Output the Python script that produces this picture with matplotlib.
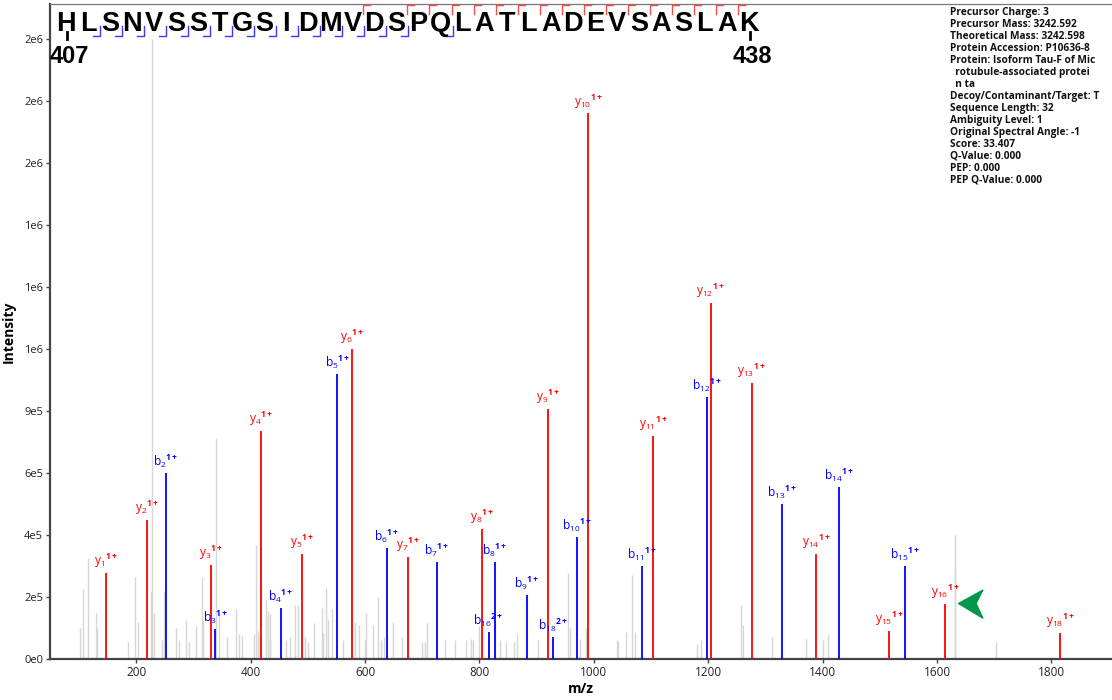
import matplotlib
matplotlib.use('Agg')
import matplotlib.pyplot as plt
from matplotlib.path import Path

W, H = 1112, 700
plt.rcParams['font.family'] = ['Open Sans', 'DejaVu Sans']
plt.rcParams['mathtext.fontset'] = 'custom'
plt.rcParams['mathtext.rm'] = 'Open Sans'
plt.rcParams['mathtext.bf'] = 'Open Sans:bold'

peptide = 'HLSNVSSTGSIDMVDSPQLATLADEVSASLAK'
start_res, end_res = 407, 438

# matched b ions
b_num = [2, 3, 4, 5, 6, 7, 8, 9, 10, 11, 12, 13, 14, 15, 16, 18]
b_charge = [1, 1, 1, 1, 1, 1, 1, 1, 1, 1, 1, 1, 1, 1, 2, 2]
b_mz = [251.15, 338.18, 452.23, 551.29, 638.33, 725.36, 826.41, 883.43, 970.46,
        1083.54, 1198.57, 1329.61, 1428.68, 1543.71, 815.87, 928.43]
b_int = [6.0e5, 0.97e5, 1.65e5, 9.19e5, 3.58e5, 3.13e5, 3.13e5, 2.06e5, 3.94e5,
         3.0e5, 8.45e5, 5.0e5, 5.55e5, 3.0e5, 0.87e5, 0.72e5]

# matched y ions
y_num = [1, 2, 3, 4, 5, 6, 7, 8, 9, 10, 11, 12, 13, 14, 15, 16, 18]
y_charge = [1] * 17
y_mz = [147.11, 218.15, 331.23, 418.27, 489.30, 576.34, 675.40, 804.45, 919.47,
        990.51, 1103.59, 1204.64, 1275.68, 1388.76, 1516.82, 1613.87, 1815.93]
y_int = [2.77e5, 4.5e5, 3.03e5, 7.36e5, 3.4e5, 1.0e6, 3.3e5, 4.2e5, 8.07e5,
         1.76e6, 7.2e5, 1.15e6, 8.9e5, 3.4e5, 0.9e5, 1.77e5, 0.84e5]

# unmatched peaks
grey_mz = [102, 106, 116, 130, 131, 186, 198, 203, 225, 227, 230, 245, 249, 270, 274,
           287, 292, 304, 314, 317, 340, 345, 358, 374, 380, 384, 406, 410, 412, 417,
           427, 430, 433, 434, 461, 469, 477, 483, 495, 500, 511, 524, 527, 531, 535,
           542, 561, 583, 589, 599, 602, 614, 622, 627, 633, 649, 664, 699, 705, 708,
           739, 758, 777, 786, 789, 799, 827, 836, 846, 861, 866, 902, 954, 958, 976,
           987, 1040, 1043, 1056, 1067, 1072, 1181, 1188, 1258, 1261, 1311, 1371,
           1400, 1410, 1630.7, 1631.7, 1703]
grey_int = [1.0e5, 2.26e5, 3.26e5, 1.5e5, 1.0e5, 0.55e5, 2.65e5, 1.2e5, 2.2e5, 2.0e6,
            1.5e5, 0.6e5, 2.2e5, 1.0e5, 0.6e5, 1.25e5, 0.55e5, 1.05e5, 2.65e5, 1.25e5,
            7.13e5, 1.5e5, 0.7e5, 1.6e5, 0.8e5, 0.75e5, 0.8e5, 3.68e5, 0.9e5, 0.8e5,
            1.9e5, 1.55e5, 1.45e5, 0.6e5, 0.6e5, 0.7e5, 1.75e5, 1.75e5, 0.7e5, 0.55e5,
            1.15e5, 1.65e5, 0.85e5, 2.3e5, 1.25e5, 1.6e5, 0.6e5, 1.2e5, 1.1e5, 0.6e5,
            1.5e5, 1.1e5, 2.0e5, 0.6e5, 0.7e5, 1.2e5, 0.7e5, 0.55e5, 0.55e5, 1.15e5,
            0.6e5, 0.6e5, 0.6e5, 0.65e5, 0.6e5, 1.05e5, 1.2e5, 0.6e5, 0.55e5, 0.55e5,
            0.8e5, 0.6e5, 2.77e5, 1.0e5, 0.65e5, 1.0e5, 0.6e5, 0.55e5, 0.87e5, 2.7e5,
            0.87e5, 0.5e5, 0.6e5, 1.75e5, 1.1e5, 0.7e5, 0.65e5, 0.6e5, 0.8e5, 4.0e5,
            3.0e5, 0.55e5]

ytick_vals = [0, 2e5, 4e5, 6e5, 8e5, 1.0e6, 1.2e6, 1.4e6, 1.6e6, 1.8e6, 2.0e6]
ytick_labels = ['0e0', '2e5', '4e5', '6e5', '9e5', '1e6', '1e6', '1e6', '2e6', '2e6', '2e6']
xtick_vals = [200, 400, 600, 800, 1000, 1200, 1400, 1600, 1800]

info_lines = ['Precursor Charge: 3', 'Precursor Mass: 3242.592', 'Theoretical Mass: 3242.598',
              'Protein Accession: P10636-8', 'Protein: Isoform Tau-F of Mic',
              '  rotubule-associated protei', '  n ta', 'Decoy/Contaminant/Target: T',
              'Sequence Length: 32', 'Ambiguity Level: 1', 'Original Spectral Angle: -1',
              'Score: 33.407', 'Q-Value: 0.000', 'PEP: 0.000', 'PEP Q-Value: 0.000']

arrow_at = (1636, 1.8e5)

RED = '#ff0000'
BLUE = '#0000ff'

fig = plt.figure(figsize=(W / 100, H / 100), dpi=100)
ax = fig.add_axes([50 / W, 41 / H, 1062 / W, 655 / H])

ax.vlines(grey_mz, 0, grey_int, color='#d6d6d6', lw=1.0, zorder=1)
ax.vlines(b_mz, 0, b_int, color=BLUE, lw=1.3, zorder=3)
ax.vlines(y_mz, 0, y_int, color=RED, lw=1.3, zorder=3)

for n, z, mz, it in zip(b_num, b_charge, b_mz, b_int):
    ax.annotate(r'$\mathregular{b_{%d}{}^{\mathbf{%d+}}}$' % (n, z), (mz, it),
                xytext=(0, 2), textcoords='offset points', ha='center', va='bottom',
                color=BLUE, fontsize=8.6, zorder=4)
for n, z, mz, it in zip(y_num, y_charge, y_mz, y_int):
    ax.annotate(r'$\mathregular{y_{%d}{}^{\mathbf{%d+}}}$' % (n, z), (mz, it),
                xytext=(0, 2), textcoords='offset points', ha='center', va='bottom',
                color=RED, fontsize=8.6, zorder=4)

# green arrow marker
arrow = Path([(0, 0), (1, 0.55), (0.72, 0), (1, -0.6), (0, 0)],
             [Path.MOVETO, Path.LINETO, Path.LINETO, Path.LINETO, Path.CLOSEPOLY])
ax.plot([arrow_at[0]], [arrow_at[1]], marker=arrow, ms=35, color='#00994c',
        mec='#00994c', ls='none', zorder=5)

ax.set_xlim(49, 1906)
ax.set_ylim(0, 2.113e6)
ax.set_xticks(xtick_vals)
ax.set_xticklabels([str(v) for v in xtick_vals], fontsize=8.5)
ax.set_yticks(ytick_vals)
ax.set_yticklabels(ytick_labels, fontsize=8)
ax.tick_params(direction='out', length=3, width=1, color='#444444', labelcolor='#222222', pad=2)
ax.set_xlabel('m/z', fontweight='bold', fontsize=10, labelpad=2)
ax.set_ylabel('Intensity', fontweight='bold', fontsize=10, labelpad=6)
ax.spines['right'].set_visible(False)
ax.spines['left'].set_color('#444444')
ax.spines['left'].set_linewidth(1.6)
ax.spines['bottom'].set_color('#444444')
ax.spines['bottom'].set_linewidth(1.6)
ax.spines['top'].set_color('#777777')
ax.spines['top'].set_linewidth(0.9)

# overlay in pixel units for the sequence coverage and info box
ov = fig.add_axes([0, 0, 1, 1])
ov.set_xlim(0, W)
ov.set_ylim(H, 0)
ov.axis('off')

x0, step = 66, 22.03
for i, aa in enumerate(peptide):
    ov.text(x0 + i * step, 31, aa, fontsize=19.5, fontweight='bold', family='Liberation Sans',
            ha='center', va='baseline', color='black')

for n in b_num:
    gx = x0 + (n - 1) * step + 12
    ov.plot([gx, gx, gx - 7], [26, 36, 36], color='#3a3aff', lw=1.0)
for n in y_num:
    gx = x0 + (len(peptide) - n - 1) * step + 11
    ov.plot([gx + 7, gx, gx], [5, 5, 14], color='#ff4a4a', lw=1.0)

for idx, num in ((0, start_res), (len(peptide) - 1, end_res)):
    cx = x0 + idx * step + 1
    ov.plot([cx, cx], [32, 39], color='black', lw=2)
    ov.text(cx + 2, 45, str(num), fontsize=17, fontweight='bold', family='Liberation Sans',
            ha='center', va='top', color='black')

for k, line in enumerate(info_lines):
    ov.text(950, 13 + k * 11.93, line, fontsize=7.3, fontweight='bold', va='center',
            ha='left', color='#111111')

fig.savefig('out.png', dpi=100)
